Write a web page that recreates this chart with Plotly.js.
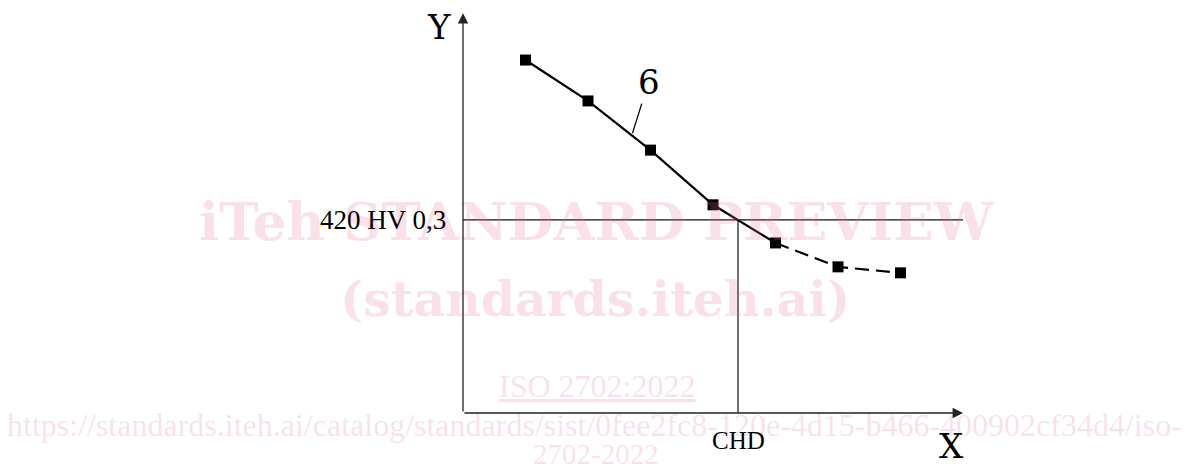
<!DOCTYPE html>
<html>
<head>
<meta charset="utf-8">
<script src="https://cdn.plot.ly/plotly-3.0.1.min.js"></script>
<style>html,body{margin:0;padding:0;background:#fff;}#chart{width:1189px;height:472px;}</style>
</head>
<body>
<div id="chart"></div>
<script>
// Depth positions (arbitrary units, no tick labels in source)
const depthPos = [1, 2, 3, 4, 5, 6, 7];
// Hardness values (HV 0,3)
const hardness = [768, 679, 572, 453, 370, 318, 305];
const limitHardness = 420;       // 420 HV 0,3
const chdDepth = 4.4;            // case hardening depth where curve crosses limit
const curveLabel = '6';
const limitLabel = '420 HV 0,3';
const chdLabel = 'CHD';
const xAxisLabel = 'X';
const yAxisLabel = 'Y';
const xMax = 8, yMax = 866;

const wmColor = 'rgba(232,120,152,0.22)';
const serif = '"DejaVu Serif", "Liberation Serif", serif';
const serif2 = '"Liberation Serif", "Times New Roman", serif';
const wmBig = '"DejaVu Serif", serif';

const solidX = depthPos.slice(0, 5), solidY = hardness.slice(0, 5);
const dashX = depthPos.slice(4), dashY = hardness.slice(4);

const traces = [
  {x: solidX, y: solidY, mode: 'lines', line: {color: '#000', width: 2.2}, hoverinfo: 'skip', cliponaxis: false},
  {x: dashX, y: dashY, mode: 'lines', line: {color: '#000', width: 2.2, dash: '14px,7px'}, hoverinfo: 'skip', cliponaxis: false},
  {x: depthPos, y: hardness, mode: 'markers', marker: {symbol: 'square', size: 11, color: '#000'}, hoverinfo: 'skip', cliponaxis: false}
];

function wm(x, y, text, size, family) {
  return {xref: 'paper', yref: 'paper', x: x, y: y, xanchor: 'center', yanchor: 'middle', text: text, showarrow: false, font: {family: family, size: size, color: wmColor}};
}

const layout = {
  width: 1189, height: 472,
  margin: {l: 463, r: 226, t: 15, b: 59},
  paper_bgcolor: '#fff', plot_bgcolor: 'rgba(0,0,0,0)',
  showlegend: false,
  xaxis: {range: [0, xMax], showgrid: false, zeroline: false, showticklabels: false, ticks: '', showline: false, fixedrange: true},
  yaxis: {range: [0, yMax], showgrid: false, zeroline: false, showticklabels: false, ticks: '', showline: false, fixedrange: true},
  shapes: [
    {type: 'line', xref: 'x', yref: 'y', x0: 0, x1: xMax, y0: limitHardness, y1: limitHardness, line: {color: '#111', width: 1.2}, layer: 'above'},
    {type: 'line', xref: 'x', yref: 'y', x0: chdDepth, x1: chdDepth, y0: 0, y1: limitHardness, line: {color: '#111', width: 1.2}, layer: 'above'}
  ],
  annotations: [
    // watermark
    wm(0.268, 0.482, '<b>iTeh STANDARD PREVIEW</b>', 53, wmBig),
    wm(0.264, 0.286, '<b>(standards.iteh.ai)</b>', 49, wmBig),
    wm(0.268, 0.068, '<u>ISO 2702:2022</u>', 32, serif2),
    wm(0.262, -0.030, 'https://standards.iteh.ai/catalog/standards/sist/0fee2fc8-120e-4d15-b466-400902cf34d4/iso-', 32, serif2),
    wm(0.266, -0.104, '2702-2022', 29, serif2),
    // axes with arrows
    {xref: 'x', yref: 'y', axref: 'x', ayref: 'y', x: xMax, y: 0, ax: 0, ay: 0, text: '', showarrow: true, arrowhead: 2, arrowsize: 1.6, arrowwidth: 1.3, arrowcolor: '#222'},
    {xref: 'x', yref: 'y', axref: 'x', ayref: 'y', x: 0, y: yMax + 4, ax: 0, ay: 0, text: '', showarrow: true, arrowhead: 2, arrowsize: 1.6, arrowwidth: 1.3, arrowcolor: '#222'},
    // labels
    {xref: 'paper', yref: 'paper', x: -0.048, y: 0.970, xanchor: 'center', yanchor: 'middle', text: yAxisLabel, showarrow: false, font: {family: serif, size: 34, color: '#000'}},
    {xref: 'paper', yref: 'paper', x: 0.976, y: -0.083, xanchor: 'center', yanchor: 'middle', text: xAxisLabel, showarrow: false, font: {family: serif, size: 34, color: '#000'}},
    {xref: 'paper', yref: 'y', x: -0.030, y: limitHardness, xanchor: 'right', yanchor: 'middle', text: limitLabel, showarrow: false, font: {family: serif2, size: 27, color: '#000'}},
    {xref: 'x', yref: 'paper', x: chdDepth, y: -0.068, xanchor: 'center', yanchor: 'middle', text: chdLabel, showarrow: false, font: {family: serif2, size: 25, color: '#000'}},
    {xref: 'x', yref: 'y', x: 2.712, y: 609, ax: 16, ay: -51, text: curveLabel, showarrow: true, arrowhead: 0, arrowwidth: 1.3, arrowcolor: '#000', standoff: 0, font: {family: serif, size: 34, color: '#000'}}
  ]
};

Plotly.newPlot('chart', traces, layout, {staticPlot: true, displayModeBar: false});
</script>
</body>
</html>
